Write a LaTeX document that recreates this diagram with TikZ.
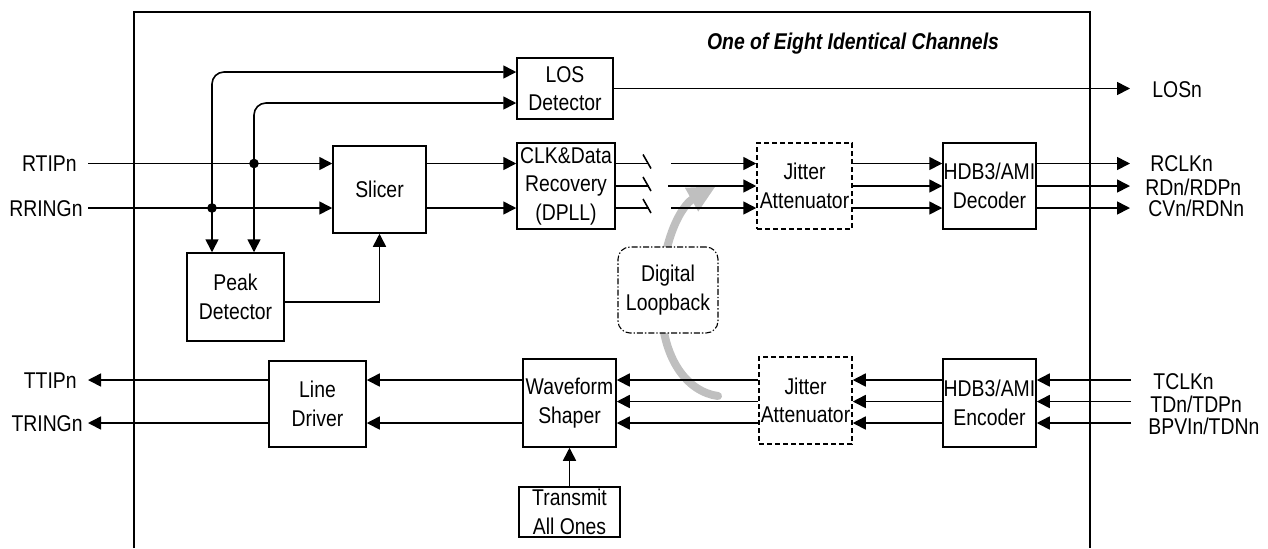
\documentclass[tikz,border=0pt]{standalone}
\usepackage{fontspec}
\setmainfont{Liberation Sans}[FakeStretch=0.85]
\usetikzlibrary{arrows.meta,calc}
\begin{document}
\begin{tikzpicture}[x=0.5pt,y=-0.5pt,
  every node/.style={font=\fontsize{11.4}{14.2}\selectfont},
  wire/.style={line width=0.8pt},
  arr/.style={wire,-{Triangle[length=6.5pt,width=6.5pt]}},
  box/.style={draw,line width=0.75pt,fill=white,inner sep=0pt},
  dbox/.style={box,dash pattern=on 2.5pt off 1.5pt},
  lbbox/.style={box,rounded corners=6pt,line width=0.55pt,dash pattern=on 3pt off 1pt on 0.7pt off 1pt},
  txt/.style={align=center,inner sep=0pt},
  lbl/.style={inner sep=0pt,text height=8.1pt,text depth=0pt},
  dot/.style={fill=black},
  loopar/.style={line width=4pt,draw=gray!50,line cap=round,-{Triangle[length=14pt,width=12.5pt]}}
  ]
\useasboundingbox (0,0) rectangle (1268,548);
% frame
\draw[line width=0.8pt] (134,548) -- (134,12) -- (1090,12) -- (1090,548);
\node[font=\fontsize{11.4}{14.2}\selectfont\bfseries\itshape,inner sep=0pt] (title) at (853,44) {One of Eight Identical Channels};

% rows
\coordinate (rA) at (0,163.5);
\coordinate (rB) at (0,186);
\coordinate (rC) at (0,208);
\coordinate (tA) at (0,380);
\coordinate (tB) at (0,401.5);
\coordinate (tC) at (0,423);

% loopback gray arrow (behind everything)
\coordinate (lbStart) at (718,396);
\coordinate (lbEnd) at (716,186);
\draw[loopar] (lbStart) .. controls (688,392) and (661,360) .. (661,300) .. controls (661,240) and (682,205) .. (lbEnd);

% boxes
\node[box,minimum width=48pt,minimum height=30.5pt] (los) at (565,88.5) {};
\node[txt] (losT) at (los) {LOS\\Detector};
\node[box,minimum width=46.5pt,minimum height=43.5pt] (slicer) at (379.5,189.5) {};
\node[txt] (slicerT) at (slicer) {Slicer};
\node[box,minimum width=49pt,minimum height=43pt] (clk) at (566,186) {};
\node[txt] (clkT) at (clk) {CLK\&Data\\Recovery\\(DPLL)};
\node[dbox,minimum width=47.5pt,minimum height=43pt] (jit1) at (804.5,186) {};
\node[txt] (jit1T) at (jit1) {Jitter\\Attenuator};
\node[box,minimum width=46.5pt,minimum height=43pt] (dec) at (989.5,186) {};
\node[txt] (decT) at (dec) {HDB3/AMI\\Decoder};
\node[box,minimum width=48.5pt,minimum height=44pt] (peak) at (235.5,297) {};
\node[txt] (peakT) at (peak) {Peak\\Detector};
\node[lbbox,minimum width=50pt,minimum height=43pt] (dlb) at (668,290) {};
\node[txt] (dlbT) at (dlb) {Digital\\Loopback};
\node[box,minimum width=48.5pt,minimum height=43pt] (ld) at (317.5,404) {};
\node[txt] (ldT) at (ld) {Line\\Driver};
\node[box,minimum width=46.5pt,minimum height=44pt] (wav) at (569.5,403) {};
\node[txt] (wavT) at (wav) {Waveform\\Shaper};
\node[dbox,minimum width=46.5pt,minimum height=43.5pt] (jit2) at (805.5,400.5) {};
\node[txt] (jit2T) at (jit2) {Jitter\\Attenuator};
\node[box,minimum width=46.5pt,minimum height=44pt] (enc) at (989.5,403) {};
\node[txt] (encT) at (enc) {HDB3/AMI\\Encoder};
\node[box,minimum width=50.5pt,minimum height=25pt] (tao) at (569.5,512) {};
\node[txt] (taoT) at (tao) {Transmit\\All Ones};

% external labels
\node[lbl,anchor=east] (rtipL) at (77,163.5) {RTIPn};
\node[lbl,anchor=east] (rringL) at (83,208) {RRINGn};
\node[lbl,anchor=east] (ttipL) at (77,380) {TTIPn};
\node[lbl,anchor=east] (tringL) at (83,423) {TRINGn};
\node[lbl,anchor=west] (losL) at (1152,89) {LOSn};
\node[lbl,anchor=west] (rclkL) at (1150,163) {RCLKn};
\node[lbl,anchor=west] (rdL) at (1145,187) {RDn/RDPn};
\node[lbl,anchor=west] (cvL) at (1148,208.5) {CVn/RDNn};
\node[lbl,anchor=west] (tclkL) at (1153,381) {TCLKn};
\node[lbl,anchor=west] (tdL) at (1150,404) {TDn/TDPn};
\node[lbl,anchor=west] (bpvL) at (1148,426) {BPVIn/TDNn};

% free ends
\coordinate (rtipIn) at (88,163.5);
\coordinate (rringIn) at (88,208);
\coordinate (ttipOut) at (88,380);
\coordinate (tringOut) at (88,423);
\coordinate (losOut) at (1130,88.5);
\coordinate (oA) at (1130,163.5);
\coordinate (oB) at (1130,186);
\coordinate (oC) at (1130,208);
\coordinate (iA) at (1131,380);
\coordinate (iB) at (1131,401.5);
\coordinate (iC) at (1131,423);
\coordinate (j1) at (254,163.5);
\coordinate (j2) at (212,208);
\coordinate (sA) at (649,163.5);
\coordinate (sB) at (649,186);
\coordinate (sC) at (649,208);
\coordinate (gA) at (671,163.5);
\coordinate (gB) at (668,186);
\coordinate (gC) at (671,208);

% receive path
\draw[arr] (rtipIn) -- (slicer.west |- rA);
\draw[arr] (rringIn) -- (slicer.west |- rC);
\draw[arr,rounded corners=6pt] (j2) |- ($(los.west)+(0,-16.5)$);
\draw[arr,rounded corners=6pt] (j1) |- ($(los.west)+(0,14.5)$);
\draw[arr] (j2) -- (j2 |- peak.north);
\draw[arr] (j1) -- (j1 |- peak.north);
\fill[dot] (j1) circle (2.4pt);
\fill[dot] (j2) circle (2.4pt);
\draw[arr] ($(peak.east)+(0,5)$) -| (slicer.south);
\draw[arr] (slicer.east |- rA) -- (clk.west |- rA);
\draw[arr] (slicer.east |- rC) -- (clk.west |- rC);
\draw[arr] (los.east) -- (losOut);
\foreach \s/\g/\r in {sA/gA/rA,sB/gB/rB,sC/gC/rC}{
  \draw[wire] (clk.east |- \r) -- (\s);
  \draw[wire] ($(\s)+(-6,-9)$) -- ($(\s)+(2,5)$);
  \draw[arr] (\g) -- (jit1.west |- \r);
  \draw[arr] (jit1.east |- \r) -- (dec.west |- \r);
}
\draw[arr] (dec.east |- rA) -- (oA);
\draw[arr] (dec.east |- rB) -- (oB);
\draw[arr] (dec.east |- rC) -- (oC);

% transmit path
\draw[arr] (iA) -- (enc.east |- tA);
\draw[arr] (iB) -- (enc.east |- tB);
\draw[arr] (iC) -- (enc.east |- tC);
\foreach \r in {tA,tB,tC}{
  \draw[arr] (enc.west |- \r) -- (jit2.east |- \r);
  \draw[arr] (jit2.west |- \r) -- (wav.east |- \r);
}
\draw[arr] (wav.west |- tA) -- (ld.east |- tA);
\draw[arr] (wav.west |- tC) -- (ld.east |- tC);
\draw[arr] (ld.west |- tA) -- (ttipOut);
\draw[arr] (ld.west |- tC) -- (tringOut);
\draw[arr] (tao.north) -- (wav.south);
\end{tikzpicture}
\end{document}
